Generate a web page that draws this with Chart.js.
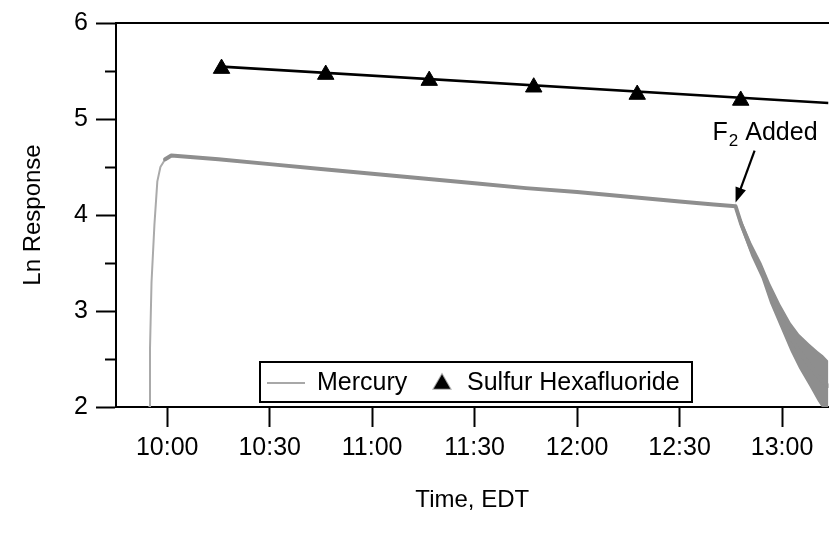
<!DOCTYPE html>
<html><head><meta charset="utf-8">
<script src="https://cdn.jsdelivr.net/npm/chart.js@4.4.1/dist/chart.umd.min.js"></script>
<style>html,body{margin:0;padding:0;background:#fff;overflow:hidden}canvas{display:block}</style>
</head><body>
<canvas id="c" width="839" height="535"></canvas>
<script>
// ---- data (time in minutes after midnight, EDT) ----
const xTickMinutes = [600, 630, 660, 690, 720, 750, 780];
const yMajorTicks = [2, 3, 4, 5, 6];
const yMinorTicks = [2.5, 3.5, 4.5, 5.5];

const mercuryTime = [594.7, 594.95, 595.4, 596.25, 597.1, 598.0, 599.4, 601.2,
  615, 630, 645, 660, 675, 690, 705, 720, 735, 750, 760, 766.4,
  768, 771, 774, 776.5, 779.5, 782.5, 785, 788, 790.5, 792, 793.6];
const mercuryLn = [2.0, 2.6, 3.3, 3.9, 4.35, 4.5, 4.58, 4.62,
  4.58, 4.53, 4.48, 4.43, 4.38, 4.33, 4.28, 4.24, 4.19, 4.14, 4.11, 4.09,
  3.91, 3.64, 3.42, 3.19, 2.95, 2.73, 2.58, 2.44, 2.32, 2.26, 2.22];

const fallTime  = [766.4, 768, 771, 774, 776.5, 779.5, 782.5, 785, 788, 790.5, 792, 793.6];
const fallUpper = [4.13, 3.96, 3.71, 3.50, 3.29, 3.07, 2.88, 2.76, 2.66, 2.58, 2.54, 2.48];
const fallLower = [4.04, 3.86, 3.57, 3.34, 3.08, 2.83, 2.58, 2.40, 2.22, 2.06, 1.98, 1.95];

const sf6Time = [615.9, 646.4, 676.7, 707.3, 737.6, 767.9];
const sf6Ln   = [5.525, 5.463, 5.400, 5.331, 5.255, 5.193];
const sf6FitTime = [615.9, 793.6];
const sf6FitLn   = [5.546, 5.166];

const seriesNames = ['Mercury', 'Sulfur Hexafluoride'];
const annotationText = ['F', '2', ' Added'];
const annotationTime = 766.4, annotationLn = 4.13;

// ---- styling ----
const FONT = '"Liberation Sans", Arial, Helvetica, sans-serif';
const fontMain = {family: FONT, size: 25};
const fontTitle = {family: FONT, size: 24};
const HG = '#8e8e8e';
const xy = (xs, ys) => xs.map((x, i) => ({x, y: ys[i]}));
const fmt = v => { const h = Math.floor(v / 60), m = Math.round(v - h * 60); return h + ':' + String(m).padStart(2, '0'); };

const legendPlugin = {
  id: 'boxLegend',
  afterDraw(chart) {
    const ctx = chart.ctx;
    const L = 260, T = 362, R = 692, B = 402, cy = (T + B) / 2;
    ctx.save();
    ctx.fillStyle = '#fff';
    ctx.fillRect(L, T, R - L, B - T);
    ctx.lineWidth = 2; ctx.strokeStyle = '#000';
    ctx.strokeRect(L, T, R - L, B - T);
    ctx.strokeStyle = '#a8a8a8'; ctx.lineWidth = 2;
    ctx.beginPath(); ctx.moveTo(267, cy + 1); ctx.lineTo(305, cy + 1); ctx.stroke();
    ctx.fillStyle = '#000';
    ctx.font = '25px ' + FONT;
    ctx.textBaseline = 'middle';
    ctx.fillText(seriesNames[0], 317, cy + 1);
    Chart.helpers.drawPoint(ctx, {pointStyle: 'triangle', radius: 9.5, borderWidth: 1}, 442, cy + 2);
    ctx.fill();
    ctx.fillText(seriesNames[1], 467, cy + 1);
    ctx.restore();
  }
};

const annotPlugin = {
  id: 'annot',
  afterDatasetsDraw(chart) {
    const ctx = chart.ctx, xs = chart.scales.x, ys = chart.scales.y;
    const tx = xs.getPixelForValue(annotationTime), ty = ys.getPixelForValue(annotationLn);
    ctx.save();
    ctx.fillStyle = '#000'; ctx.strokeStyle = '#000';
    ctx.textBaseline = 'alphabetic';
    ctx.font = '25px ' + FONT;
    let x = tx - 23, y = ty - 63;
    ctx.fillText(annotationText[0], x, y);
    x += ctx.measureText(annotationText[0]).width + 1;
    ctx.font = '17px ' + FONT;
    ctx.fillText(annotationText[1], x, y + 6);
    x += ctx.measureText(annotationText[1]).width;
    ctx.font = '25px ' + FONT;
    ctx.fillText(annotationText[2], x, y);
    // arrow
    const sx = tx + 19, sy = ty - 52;
    const ang = Math.atan2(ty - sy, tx - sx);
    ctx.lineWidth = 2.2;
    ctx.beginPath(); ctx.moveTo(sx, sy); ctx.lineTo(tx - Math.cos(ang) * 10, ty - Math.sin(ang) * 10); ctx.stroke();
    const hl = 15, hw = 5.5;
    ctx.beginPath();
    ctx.moveTo(tx, ty);
    ctx.lineTo(tx - Math.cos(ang) * hl + Math.sin(ang) * hw, ty - Math.sin(ang) * hl - Math.cos(ang) * hw);
    ctx.lineTo(tx - Math.cos(ang) * hl - Math.sin(ang) * hw, ty - Math.sin(ang) * hl + Math.cos(ang) * hw);
    ctx.closePath(); ctx.fill();
    ctx.restore();
  }
};

new Chart(document.getElementById('c'), {
  type: 'line',
  data: {
    datasets: [
      { label: seriesNames[1], data: xy(sf6Time, sf6Ln), showLine: false,
        pointStyle: 'triangle', pointRadius: 9.5, pointBackgroundColor: '#000', pointBorderColor: '#000', pointBorderWidth: 1 },
      { label: 'fit', data: xy(sf6FitTime, sf6FitLn), borderColor: '#000', borderWidth: 2.6, pointRadius: 0 },
      { label: seriesNames[0], data: xy(mercuryTime, mercuryLn), borderColor: HG, borderWidth: 4, pointRadius: 0,
        borderJoinStyle: 'round', borderCapStyle: 'round',
        segment: { borderWidth: c => c.p0DataIndex < 6 ? 2 : 4, borderColor: c => c.p0DataIndex < 6 ? '#aaaaaa' : HG } },
      { label: 'bandU', data: xy(fallTime, fallUpper), borderWidth: 0, borderColor: 'rgba(0,0,0,0)', pointRadius: 0, fill: false },
      { label: 'bandL', data: xy(fallTime, fallLower), borderWidth: 0, borderColor: 'rgba(0,0,0,0)', pointRadius: 0,
        fill: '-1', backgroundColor: HG }
    ]
  },
  options: {
    responsive: false, animation: false, devicePixelRatio: 1,
    layout: { padding: 0 },
    plugins: { legend: { display: false }, tooltip: { enabled: false } },
    scales: {
      x: { type: 'linear', position: 'bottom', min: 585, max: 793.6,
        afterBuildTicks: s => { s.ticks = xTickMinutes.map(v => ({value: v})); },
        afterFit: s => { s.height = 128; },
        ticks: { callback: v => fmt(v), font: fontMain, color: '#000', padding: 6, maxRotation: 0, autoSkip: false },
        grid: { drawOnChartArea: false, tickLength: 20, tickWidth: 2, tickColor: '#000' },
        border: { display: true, color: '#000', width: 2 },
        title: { display: true, text: 'Time, EDT', font: fontTitle, color: '#000', padding: {top: 0, bottom: 20.6} } },
      xTop: { type: 'linear', position: 'top', min: 585, max: 793.6,
        afterFit: s => { s.height = 22; },
        ticks: { display: false },
        grid: { drawOnChartArea: false, drawTicks: false },
        border: { display: true, color: '#000', width: 2 } },
      y: { type: 'linear', position: 'left', weight: 1, min: 2, max: 6,
        afterBuildTicks: s => { s.ticks = yMajorTicks.map(v => ({value: v})); },
        afterFit: s => { s.width = 116; },
        ticks: { font: fontMain, color: '#000', padding: 8, callback: v => String(v) },
        grid: { drawOnChartArea: false, tickLength: 20, tickWidth: 2, tickColor: '#000' },
        border: { display: true, color: '#000', width: 2 },
        title: { display: true, text: 'Ln Response', font: fontTitle, color: '#000', padding: {top: 18.6, bottom: 0} } },
      yMinor: { type: 'linear', position: 'left', weight: 0, min: 2, max: 6,
        afterBuildTicks: s => { s.ticks = yMinorTicks.map(v => ({value: v})); },
        afterFit: s => { s.width = 0; },
        ticks: { display: false },
        grid: { drawOnChartArea: false, tickLength: 11, tickWidth: 2, tickColor: '#000' },
        border: { display: false } }
    }
  },
  plugins: [legendPlugin, annotPlugin]
});
</script>
</body></html>
